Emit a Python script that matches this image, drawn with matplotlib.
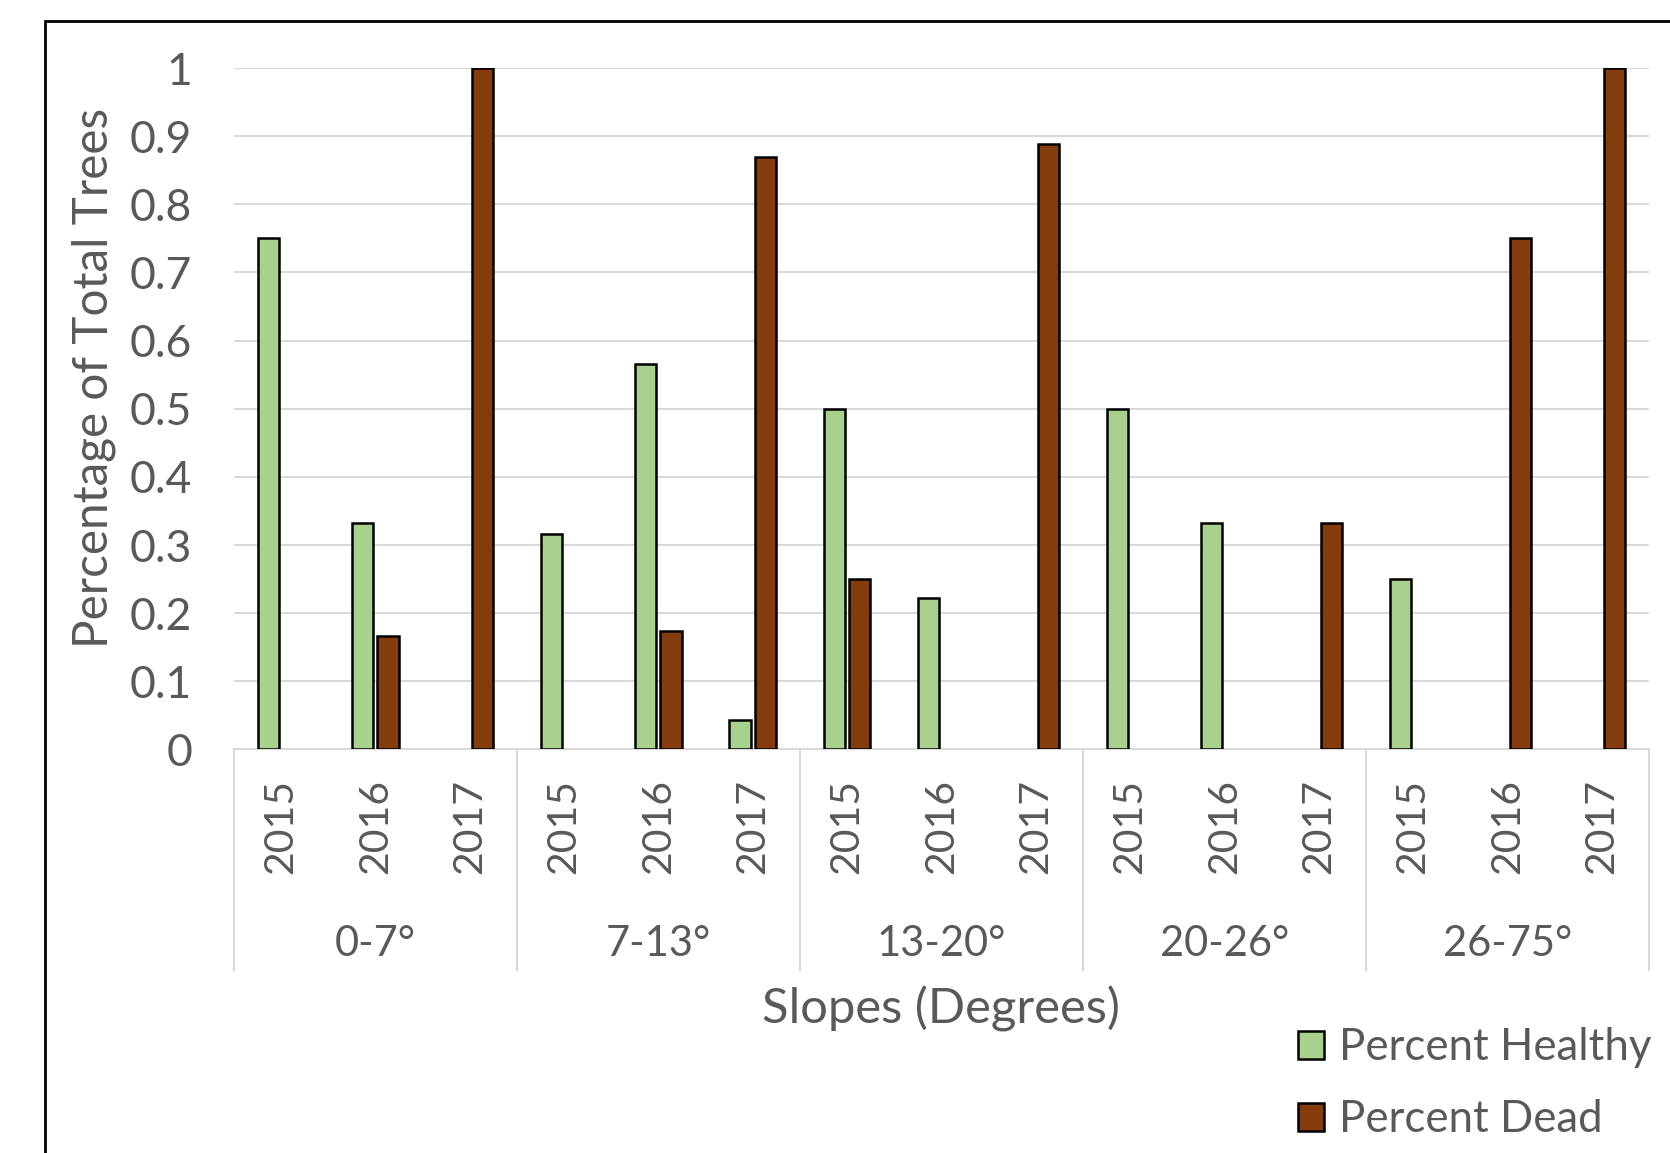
import numpy as np
import matplotlib.pyplot as plt
from matplotlib.patches import Patch, Rectangle

# data
slopes = ['0-7°', '7-13°', '13-20°', '20-26°', '26-75°']
years = ['2015', '2016', '2017']
healthy = [0.75, 0.333, 0.0,
           0.316, 0.565, 0.043,
           0.5, 0.222, 0.0,
           0.5, 0.333, 0.0,
           0.25, 0.0, 0.0]
dead = [0.0, 0.167, 1.0,
        0.0, 0.174, 0.87,
        0.25, 0.0, 0.889,
        0.0, 0.0, 0.333,
        0.0, 0.75, 1.0]

green = '#A9D18E'
brown = '#843C0C'
txt = '#595959'
grid = '#D9D9D9'

plt.rcParams['font.family'] = ['Lato', 'DejaVu Sans']

fig = plt.figure(figsize=(16.7, 11.53), dpi=100)
ax = fig.add_axes([0.140, 0.350, 0.8474, 0.591])

x = np.arange(len(healthy))
h = np.array(healthy)
d = np.array(dead)
w = 0.225
off = 0.135
mh = h > 0
md = d > 0
ax.bar(x[mh] - off, h[mh], w, color=green, edgecolor='black', linewidth=1.8, zorder=3)
ax.bar(x[md] + off, d[md], w, color=brown, edgecolor='black', linewidth=1.8, zorder=3)

ax.set_xlim(-0.5, len(healthy) - 0.5)
ax.set_ylim(0, 1)
ax.set_yticks(np.arange(0, 1.01, 0.1))
ax.set_yticklabels(['0'] + ['%.1f' % v for v in np.arange(0.1, 0.95, 0.1)] + ['1'])
ax.yaxis.grid(True, color=grid, linewidth=1.5, zorder=0)
ax.tick_params(axis='y', length=0, pad=30, labelsize=32, labelcolor=txt)
ax.set_xticks([])
for s in ['top', 'right', 'left']:
    ax.spines[s].set_visible(False)
ax.spines['bottom'].set_color(grid)
ax.spines['bottom'].set_linewidth(1.5)

# two-level category axis
tr = ax.get_xaxis_transform()
for i in range(len(healthy)):
    ax.text(i, -0.043, years[i % 3], rotation=90, ha='center', va='top',
            fontsize=29.5, color=txt, transform=tr)
for g, name in enumerate(slopes):
    ax.text(g * 3 + 1, -0.285, name, ha='center', va='center',
            fontsize=30, color=txt, transform=tr)
for b in np.arange(-0.5, len(healthy), 3):
    ax.plot([b, b], [0, -0.323], color=grid, linewidth=1.5, transform=tr, clip_on=False)

fig.text(94 / 1670, 1 - 378 / 1153, 'Percentage of Total Trees', rotation=90,
         ha='center', va='center', fontsize=34.3, color=txt)
fig.text(941 / 1670, 1 - 1009 / 1153, 'Slopes (Degrees)',
         ha='center', va='center', fontsize=35.3, color=txt)

handles = [Patch(facecolor=green, edgecolor='black', linewidth=1.8, label='Percent Healthy'),
           Patch(facecolor=brown, edgecolor='black', linewidth=1.8, label='Percent Dead')]
leg = fig.legend(handles=handles, loc='upper left', bbox_to_anchor=(1280 / 1670, 1 - 1010 / 1153),
                 frameon=False, fontsize=31.5, handlelength=0.61, handleheight=0.61,
                 handletextpad=0.33, labelspacing=0.7, borderaxespad=0)
for t in leg.get_texts():
    t.set_color(txt)

# outer chart border, cut off at the right and bottom edges
fig.patches.append(Rectangle((45 / 1670, -0.1), 1.2, 1.1 - 21 / 1153, transform=fig.transFigure,
                             fill=False, edgecolor='black', linewidth=2))

fig.savefig('out.png', dpi=100)
